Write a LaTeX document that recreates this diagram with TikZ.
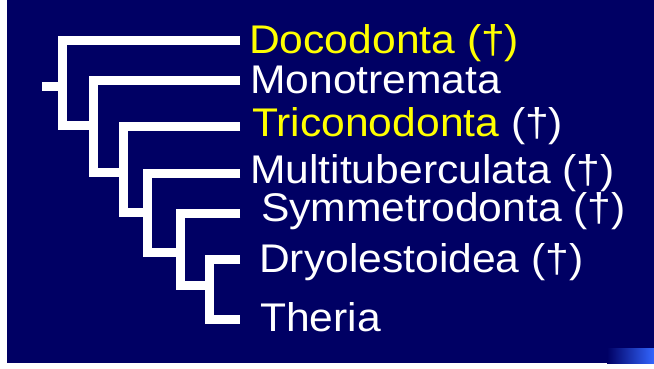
\documentclass[tikz,border=0pt]{standalone}
\usepackage{fontspec}
\setmainfont{Liberation Sans}[FakeStretch=1.065]
\definecolor{navy}{RGB}{0,0,100}
\definecolor{brightblue}{RGB}{51,102,255}
\definecolor{labelyellow}{RGB}{255,255,0}
\tikzset{
  branch/.style={draw=white, line width=9pt, line join=miter},
  taxon/.style={anchor=base west, inner sep=0pt, text=white,
    font=\fontsize{40}{40}\selectfont},
}
\begin{document}
\begin{tikzpicture}[x=1pt,y=-1pt]
\useasboundingbox (0,0) rectangle (654,368);
\fill[white] (0,0) rectangle (654,368);
\fill[navy] (7,0) rectangle (654,363);
\shade[left color=navy, right color=brightblue] (607,348) rectangle (654,363);

% labels
\node[taxon, text=labelyellow] (doco) at (249,53) {Docodonta (†)};
\node[taxon] (mono) at (250,93) {Monotremata};
\node[taxon] (tric) at (252,136) {\textcolor{labelyellow}{Triconodonta} (†)};
\node[taxon] (mult) at (250,183) {Multituberculata (†)};
\node[taxon] (symm) at (261,221) {Symmetrodonta (†)};
\node[taxon] (dryo) at (259,272) {Dryolestoidea (†)};
\node[taxon] (ther) at (260,331) {Theria};

% branch tips
\coordinate (t1) at (240,40);
\coordinate (t2) at (240,80);
\coordinate (t3) at (240,126);
\coordinate (t4) at (240,173);
\coordinate (t5) at (240,213);
\coordinate (t6) at (240,259);
\coordinate (t7) at (240,319);

% internal nodes (bottom corners)
\coordinate (b1) at (62,125);
\coordinate (b2) at (93,172);
\coordinate (b3) at (123,212);
\coordinate (b4) at (147,252);
\coordinate (b5) at (180,285);
\coordinate (b6) at (209,319);
\coordinate (root) at (42,86);
\coordinate (r1) at (62,86);

\draw[branch] (root) -- (r1);
\draw[branch] (t1) -| (b1) -- (b1 -| b2);
\draw[branch] (t2) -| (b2) -- (b2 -| b3);
\draw[branch] (t3) -| (b3) -- (b3 -| b4);
\draw[branch] (t4) -| (b4) -- (b4 -| b5);
\draw[branch] (t5) -| (b5) -- (b5 -| b6);
\draw[branch] (t6) -| (b6) -- (t7);
\end{tikzpicture}
\end{document}
